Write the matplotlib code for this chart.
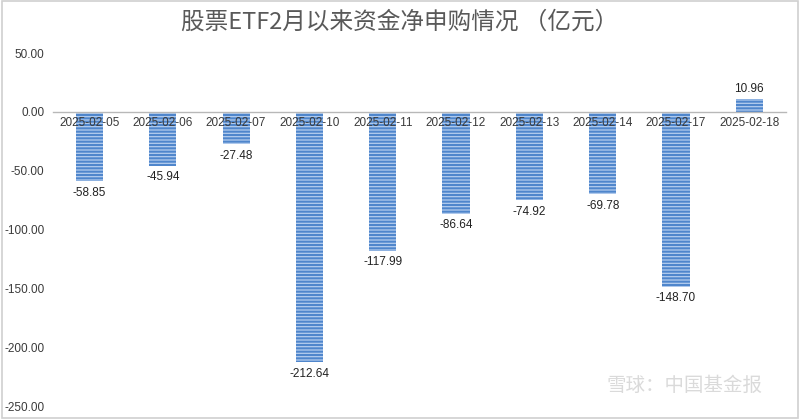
import matplotlib
matplotlib.use("Agg")
import matplotlib.pyplot as plt
from matplotlib.patches import Rectangle

plt.rcParams['font.family'] = ['Liberation Sans', 'Noto Sans CJK SC', 'DejaVu Sans']
plt.rcParams['hatch.linewidth'] = 1.5

dates = ["2025-02-05", "2025-02-06", "2025-02-07", "2025-02-10", "2025-02-11",
         "2025-02-12", "2025-02-13", "2025-02-14", "2025-02-17", "2025-02-18"]
values = [-58.85, -45.94, -27.48, -212.64, -117.99, -86.64, -74.92, -69.78, -148.70, 10.96]
yticks = [50, 0, -50, -100, -150, -200, -250]
title = "股票ETF2月以来资金净申购情况 （亿元）"

fig = plt.figure(figsize=(8, 4.19), dpi=100)
ax = fig.add_axes([0.066, 0.031, 0.9165, 0.8425])

x = list(range(len(dates)))
bars = ax.bar(x, values, width=0.37, color='#b4cdee', edgecolor='#4f86cc',
              hatch='-----', linewidth=0, zorder=2)

ax.set_xlim(-0.5, len(dates) - 0.5)
ax.set_ylim(-250, 50)
ax.set_yticks(yticks)
ax.set_yticklabels([f"{v:.2f}" for v in yticks], fontsize=8.5, color='#3a3a3a')
ax.tick_params(axis='y', length=0, pad=6)

for s in ['left', 'right', 'top']:
    ax.spines[s].set_visible(False)
ax.spines['bottom'].set_position(('data', 0))
ax.spines['bottom'].set_color('#b8b8b8')
ax.spines['bottom'].set_linewidth(1.0)
ax.set_xticks(x)
ax.set_xticklabels(dates, fontsize=8.5, color='#3a3a3a')
ax.tick_params(axis='x', length=0, pad=4)
ax.set_axisbelow(False)
ax.xaxis.set_zorder(5)

for xi, v in zip(x, values):
    if v < 0:
        ax.annotate(f"{v:.2f}", (xi, v), xytext=(0, -4), textcoords='offset points',
                    ha='center', va='top', fontsize=8.5, color='#222222')
    else:
        ax.annotate(f"{v:.2f}", (xi, v), xytext=(0, 3), textcoords='offset points',
                    ha='center', va='bottom', fontsize=8.5, color='#222222')

fig.text(0.5, 0.948, title, ha='center', va='center', fontsize=17, color='#595959',
         family=['Noto Sans CJK SC', 'DejaVu Sans'], fontweight='medium')

fig.text(0.855, 0.08, "雪球：中国基金报", ha='center', va='center', fontsize=14,
         color='#dadada', family=['Noto Sans CJK SC', 'DejaVu Sans'])

fig.patches.append(Rectangle((0.002, 0.003), 0.996, 0.994, transform=fig.transFigure,
                             fill=False, edgecolor='#d0d0d0', linewidth=1.2))

fig.savefig("out.png", dpi=100)
